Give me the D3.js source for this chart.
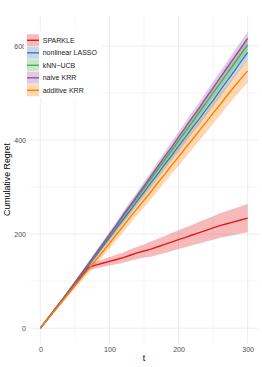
<!DOCTYPE html>
<html>
<head>
<meta charset="utf-8">
<script src="https://cdn.jsdelivr.net/npm/d3@7"></script>
<style>
  html, body { margin: 0; padding: 0; background: #ffffff; }
  svg { display: block; }
</style>
</head>
<body>
<div id="chart"></div>
<script>

//--------------------------------------
// DATA
//--------------------------------------

const steps = [0, 10, 20, 30, 40, 50, 60, 70, 80, 90, 100, 110, 120, 130, 140, 150,
               160, 170, 180, 190, 200, 210, 220, 230, 240, 250, 260, 270, 280, 290, 300];

const methods = ["SPARKLE", "nonlinear LASSO", "kNN\u2212UCB", "naive KRR", "additive KRR"];

const sparkleMean = [0, 18, 37, 56, 75, 93, 112, 129, 134, 138, 142, 146, 150, 155, 160, 164,
                     168, 173, 178, 183, 188, 193, 198, 203, 208, 213, 218, 222, 226, 230, 234];
const sparkleErr  = [0, 2, 3, 4, 4, 5, 5, 6, 7, 8, 9, 10, 11, 12, 13, 14,
                     16, 17, 18, 19, 20, 21, 22, 23, 24, 25, 26, 27, 28, 29, 30];

const lassoMean = [0, 19, 38, 57, 76, 95, 115, 134, 153, 173, 192, 212, 231, 250, 270, 289,
                   309, 328, 348, 367, 387, 406, 426, 445, 465, 484, 505, 525, 545, 566, 586];
const lassoErr  = [0, 2, 3, 3, 4, 4, 5, 5, 6, 6, 7, 7, 8, 8, 9, 9,
                   10, 10, 11, 11, 12, 12, 12, 13, 13, 13, 14, 14, 14, 15, 15];

const knnMean = [0, 19, 38, 57, 77, 97, 117, 137, 157, 177, 197, 217, 238, 258, 278, 298,
                 318, 338, 358, 378, 398, 418, 438, 459, 479, 500, 520, 541, 561, 582, 602];
const knnErr  = [0, 2, 2, 3, 3, 4, 4, 4, 5, 5, 5, 6, 6, 6, 7, 7,
                 7, 8, 8, 8, 9, 9, 9, 10, 10, 10, 11, 11, 11, 12, 12];

const naiveMean = [0, 19, 38, 57, 76, 96, 117, 137, 158, 178, 199, 219, 241, 261, 281, 302,
                   323, 344, 365, 385, 406, 427, 448, 468, 490, 511, 532, 553, 574, 595, 616];
const naiveErr  = [0, 2, 2, 3, 3, 4, 4, 5, 5, 6, 6, 7, 7, 8, 8, 9,
                   9, 10, 10, 11, 11, 11, 12, 12, 12, 13, 13, 13, 14, 14, 14];

const additiveMean = [0, 18, 36, 54, 72, 90, 108, 126, 144, 162, 180, 199, 217, 236, 254, 272,
                      290, 309, 327, 346, 364, 383, 401, 420, 438, 457, 475, 494, 512, 530, 547];
const additiveErr  = [0, 2, 3, 4, 5, 6, 7, 8, 9, 10, 11, 12, 13, 14, 14, 15,
                      16, 17, 17, 18, 19, 20, 20, 21, 22, 22, 23, 23, 24, 24, 25];

const colours = ["#e41a1c", "#377eb8", "#4daf4a", "#984ea3", "#ff7f00"];

const xTicks = [0, 100, 200, 300];
const yTicks = [0, 200, 400, 600];



//--------------------------------------
// SETUP
//--------------------------------------

const W = 262, H = 367;
const panel = { left: 30, right: 258, top: 16, bottom: 343 };
const fontFamily = "'Liberation Sans', Arial, Helvetica, sans-serif";

const svg = d3.select("#chart").append("svg")
  .attr("width", W)
  .attr("height", H);

const x = d3.scaleLinear().domain([-15, 315]).range([panel.left, panel.right]);
const y = d3.scaleLinear().domain([-31.6, 663.6]).range([panel.bottom, panel.top]);

const seriesData = [
  { name: methods[0], colour: colours[0], mean: sparkleMean,  err: sparkleErr },
  { name: methods[1], colour: colours[1], mean: lassoMean,    err: lassoErr },
  { name: methods[2], colour: colours[2], mean: knnMean,      err: knnErr },
  { name: methods[3], colour: colours[3], mean: naiveMean,    err: naiveErr },
  { name: methods[4], colour: colours[4], mean: additiveMean, err: additiveErr }
];



//--------------------------------------
// GRID
//--------------------------------------

function drawGrid() {

  let grid = svg.append("g");

  // minor lines sit halfway between the major ticks
  let xMinor = [50, 150, 250];
  let yMinor = [100, 300, 500];

  grid.selectAll(".xminor").data(xMinor).enter().append("line")
    .attr("x1", d => x(d)).attr("x2", d => x(d))
    .attr("y1", panel.top).attr("y2", panel.bottom)
    .attr("stroke", "#efefef").attr("stroke-width", 0.6);

  grid.selectAll(".yminor").data(yMinor).enter().append("line")
    .attr("y1", d => y(d)).attr("y2", d => y(d))
    .attr("x1", panel.left).attr("x2", panel.right)
    .attr("stroke", "#efefef").attr("stroke-width", 0.6);

  grid.selectAll(".xmajor").data(xTicks).enter().append("line")
    .attr("x1", d => x(d)).attr("x2", d => x(d))
    .attr("y1", panel.top).attr("y2", panel.bottom)
    .attr("stroke", "#ebebeb").attr("stroke-width", 0.9);

  grid.selectAll(".ymajor").data(yTicks).enter().append("line")
    .attr("y1", d => y(d)).attr("y2", d => y(d))
    .attr("x1", panel.left).attr("x2", panel.right)
    .attr("stroke", "#ebebeb").attr("stroke-width", 0.9);

}



//--------------------------------------
// SERIES
//--------------------------------------

function drawSeries() {

  let ribbon = d3.area()
    .x((d, i) => x(steps[i]))
    .y0(d => y(d.lo))
    .y1(d => y(d.hi));

  let line = d3.line()
    .x((d, i) => x(steps[i]))
    .y(d => y(d));

  let ribbons = svg.append("g");
  let lines = svg.append("g");

  seriesData.forEach(function (s) {

    let band = s.mean.map((m, i) => ({ lo: m - s.err[i], hi: m + s.err[i] }));

    ribbons.append("path")
      .attr("d", ribbon(band))
      .attr("fill", s.colour)
      .attr("fill-opacity", 0.3);

    lines.append("path")
      .attr("d", line(s.mean))
      .attr("fill", "none")
      .attr("stroke", s.colour)
      .attr("stroke-width", 1.4)
      .attr("stroke-linejoin", "round");

  });

}



//--------------------------------------
// AXES
//--------------------------------------

function drawAxes() {

  let xAxis = svg.append("g")
    .attr("transform", "translate(0," + (panel.bottom + 2) + ")")
    .call(d3.axisBottom(x).tickValues(xTicks).tickSize(0).tickPadding(2));

  let yAxis = svg.append("g")
    .attr("transform", "translate(" + (panel.left - 2) + ",0)")
    .call(d3.axisLeft(y).tickValues(yTicks).tickSize(0).tickPadding(2));

  [xAxis, yAxis].forEach(function (a) {
    a.select(".domain").remove();
    a.selectAll("text")
      .attr("font-family", fontFamily)
      .attr("font-size", 7.04)
      .attr("fill", "#4d4d4d");
  });

  svg.append("text")
    .attr("x", (panel.left + panel.right) / 2)
    .attr("y", 361)
    .attr("text-anchor", "middle")
    .attr("font-family", fontFamily)
    .attr("font-size", 8.8)
    .attr("fill", "#000000")
    .text("t");

  svg.append("text")
    .attr("transform", "translate(10," + ((panel.top + panel.bottom) / 2) + ") rotate(-90)")
    .attr("text-anchor", "middle")
    .attr("font-family", fontFamily)
    .attr("font-size", 8.8)
    .attr("fill", "#000000")
    .text("Cumulative Regret");

}



//--------------------------------------
// LEGEND
//--------------------------------------

function drawLegend() {

  let legend = svg.append("g");
  let keyX = 27, keyTop = 34.3, keySize = 12, keyStep = 12.5;

  legend.append("rect")
    .attr("x", 24).attr("y", 31)
    .attr("width", 78).attr("height", 67)
    .attr("fill", "#ffffff");

  seriesData.forEach(function (s, i) {

    let top = keyTop + i * keyStep;

    legend.append("rect")
      .attr("x", keyX).attr("y", top)
      .attr("width", keySize).attr("height", keySize)
      .attr("fill", s.colour)
      .attr("fill-opacity", 0.3);

    legend.append("line")
      .attr("x1", keyX).attr("x2", keyX + keySize)
      .attr("y1", top + keySize / 2).attr("y2", top + keySize / 2)
      .attr("stroke", s.colour)
      .attr("stroke-width", 1.4);

    legend.append("text")
      .attr("x", 42.7)
      .attr("y", top + keySize / 2 + 2.5)
      .attr("font-family", fontFamily)
      .attr("font-size", 7.04)
      .attr("fill", "#1a1a1a")
      .text(s.name);

  });

}



drawGrid();
drawSeries();
drawAxes();
drawLegend();

</script>
</body>
</html>
